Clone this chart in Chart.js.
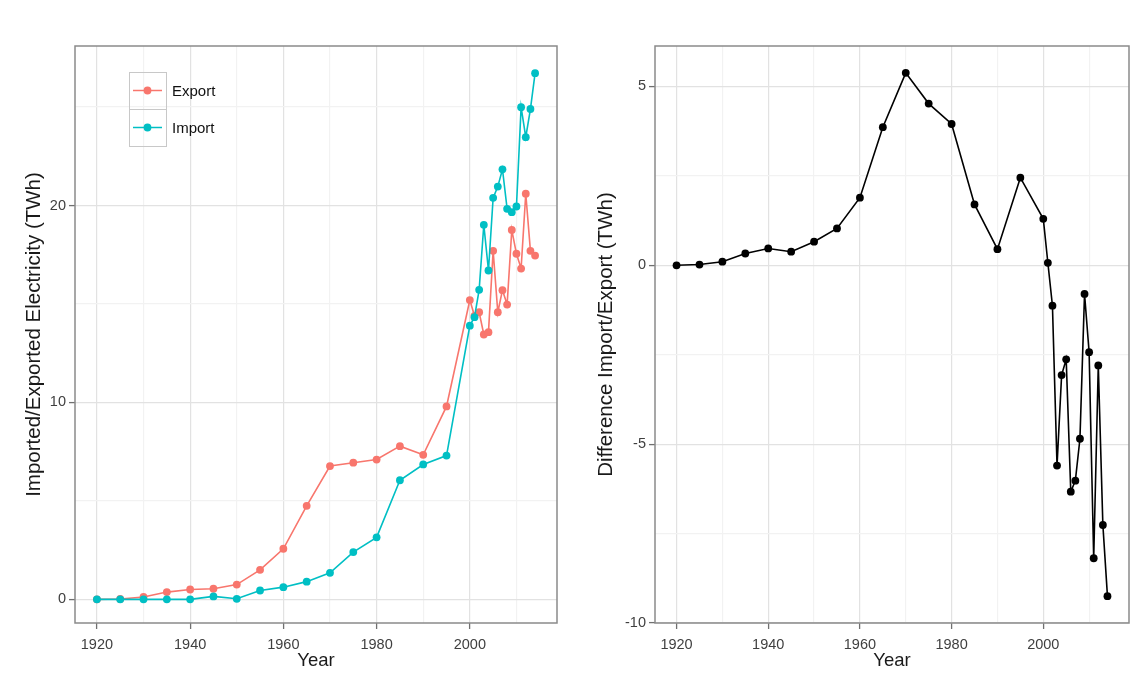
<!DOCTYPE html>
<html><head><meta charset="utf-8">
<script src="https://cdn.jsdelivr.net/npm/chart.js@4/dist/chart.umd.min.js"></script>
<style>
html,body{margin:0;padding:0;background:#fff;width:1144px;height:683px;overflow:hidden}
.panel{position:absolute;top:0;width:572px;height:683px}
#p1{left:0}#p2{left:572px}
</style></head><body>
<div class="panel" id="p1"><canvas id="c1" width="572" height="683"></canvas></div>
<div class="panel" id="p2"><canvas id="c2" width="572" height="683"></canvas></div>
<script>
// ---- data ----
const years = [1920,1925,1930,1935,1940,1945,1950,1955,1960,1965,1970,1975,1980,1985,1990,1995,
  2000,2001,2002,2003,2004,2005,2006,2007,2008,2009,2010,2011,2012,2013,2014];
const exportTWh = [0,0.02,0.12,0.37,0.5,0.54,0.75,1.5,2.57,4.75,6.77,6.94,7.1,7.78,7.34,9.8,
  15.2,14.4,14.58,13.45,13.57,17.7,14.58,15.7,14.97,18.76,17.55,16.8,20.6,17.7,17.46];
const importTWh = [0,0,0,0,0,0.15,0.03,0.45,0.62,0.9,1.35,2.4,3.15,6.05,6.85,7.3,
  13.9,14.33,15.72,19.02,16.7,20.39,20.96,21.84,19.83,19.66,19.95,24.99,23.47,24.9,26.72];
const diffTWh = [0,0.02,0.1,0.33,0.47,0.38,0.66,1.03,1.89,3.86,5.38,4.52,3.95,1.7,0.45,2.45,
  1.3,0.07,-1.13,-5.6,-3.07,-2.63,-6.33,-6.02,-4.85,-0.8,-2.43,-8.19,-2.8,-7.26,-9.25];
const seriesNames = ['Export','Import'];
const xGridValues = [1920,1930,1940,1950,1960,1970,1980,1990,2000,2010];
const xTickLabels = [1920,1940,1960,1980,2000];
const leftGridValues = [0,5,10,15,20,25];
const leftTickLabels = [0,10,20];
const rightGridValues = [-10,-7.5,-5,-2.5,0,2.5,5];
const rightTickLabels = [-10,-5,0,5];
const xTitle = 'Year';
const leftTitle = 'Imported/Exported Electricity (TWh)';
const rightTitle = 'Difference Import/Export (TWh)';

// ---- styling ----
const FONT = "'Liberation Sans', Arial, Helvetica, sans-serif";
const COL = {Export:'#F8766D', Import:'#00BFC4', diff:'#000000'};
const MAJOR = '#e2e2e2', MINOR = '#f2f2f2', TICK = '#707070', FRAME = '#8a8a8a', LABEL = '#3f3f3f';

const pts = vals => years.map((y,i)=>({x:y, y:vals[i]}));

const framePlugin = {
  id:'frame',
  afterDatasetsDraw(chart){
    const {ctx, chartArea:a} = chart;
    ctx.save(); ctx.strokeStyle = FRAME; ctx.lineWidth = 1.5;
    ctx.strokeRect(a.left, a.top, a.right-a.left, a.bottom-a.top);
    ctx.restore();
  }
};

const keyLegend = {
  id:'keyLegend',
  afterDraw(chart, args, o){
    if(!o || !o.show) return;
    const ctx = chart.ctx;
    const sets = chart.data.datasets.slice().sort((a,b)=>seriesNames.indexOf(a.label)-seriesNames.indexOf(b.label));
    sets.forEach((ds,i)=>{
      const x = o.x, y = o.y + i*o.size, cy = y + o.size/2;
      ctx.save();
      ctx.strokeStyle = '#c8c8c8'; ctx.lineWidth = 1;
      ctx.strokeRect(x+0.5, y+0.5, o.size, o.size);
      ctx.strokeStyle = ds.borderColor; ctx.lineWidth = 1.5;
      ctx.beginPath(); ctx.moveTo(x+4, cy); ctx.lineTo(x+o.size-4, cy); ctx.stroke();
      ctx.fillStyle = ds.backgroundColor;
      ctx.beginPath(); ctx.arc(x+o.size/2, cy, 3.9, 0, Math.PI*2); ctx.fill();
      ctx.fillStyle = '#111'; ctx.font = '15px ' + FONT; ctx.textBaseline = 'middle';
      ctx.fillText(ds.label, x+o.size+6, cy+1);
      ctx.restore();
    });
  }
};

function gridOpts(majors){
  return {
    color: c => majors.includes(c.tick && c.tick.value) ? MAJOR : MINOR,
    lineWidth: 1.2,
    drawTicks: true,
    tickLength: 6,
    tickColor: c => majors.includes(c.tick && c.tick.value) ? TICK : 'rgba(0,0,0,0)',
    tickWidth: 1.3
  };
}

function makePanel(id, datasets, yMin, yMax, yGrid, yMajor, yTitle, yWidth, legend){
  return new Chart(document.getElementById(id), {
    type:'line',
    data:{datasets},
    plugins:[framePlugin, keyLegend],
    options:{
      responsive:false, animation:false, devicePixelRatio:1,
      layout:{padding:{top:46, right:15, left:0, bottom:0}},
      plugins:{legend:{display:false}, tooltip:{enabled:false},
        keyLegend: legend || {show:false}},
      scales:{
        x:{type:'linear', min:1915.3, max:2018.7,
          afterBuildTicks: s => { s.ticks = xGridValues.map(v=>({value:v})); },
          afterFit: s => { s.height = 60; },
          grid: gridOpts(xTickLabels),
          border:{display:false},
          ticks:{autoSkip:false, maxRotation:0, padding:7, color:LABEL,
            font:{family:FONT, size:14.5},
            callback: v => xTickLabels.includes(v) ? String(v) : ''},
          title:{display:true, text:xTitle, color:'#1a1a1a',
            font:{family:FONT, size:18.5}, padding:{top:0, bottom:11}}
        },
        y:{type:'linear', min:yMin, max:yMax,
          afterBuildTicks: s => { s.ticks = yGrid.map(v=>({value:v})); },
          afterFit: s => { s.width = yWidth; },
          grid: gridOpts(yMajor),
          border:{display:false},
          ticks:{autoSkip:false, padding:3, color:LABEL,
            font:{family:FONT, size:14.5},
            callback: v => yMajor.includes(v) ? String(v) : ''},
          title:{display:true, text:yTitle, color:'#1a1a1a',
            font:{family:FONT, size:20.5}, padding:{top:22, bottom:0}}
        }
      }
    }
  });
}

const lineDs = (label, vals, color, order) => ({
  label, data: pts(vals), borderColor: color, backgroundColor: color,
  borderWidth: 1.6, pointRadius: 3.9, pointBorderWidth: 0, pointHoverRadius: 3.9,
  tension: 0, order, clip: false
});

makePanel('c1',
  [lineDs(seriesNames[0], exportTWh, COL.Export, 2), lineDs(seriesNames[1], importTWh, COL.Import, 1)],
  -1.2, 28.1, leftGridValues, leftTickLabels, leftTitle, 75,
  {show:true, x:129, y:72, size:37});

makePanel('c2',
  [lineDs('Difference', diffTWh, COL.diff, 1)],
  -10, 6.13, rightGridValues, rightTickLabels, rightTitle, 83, null);
</script>
</body></html>
